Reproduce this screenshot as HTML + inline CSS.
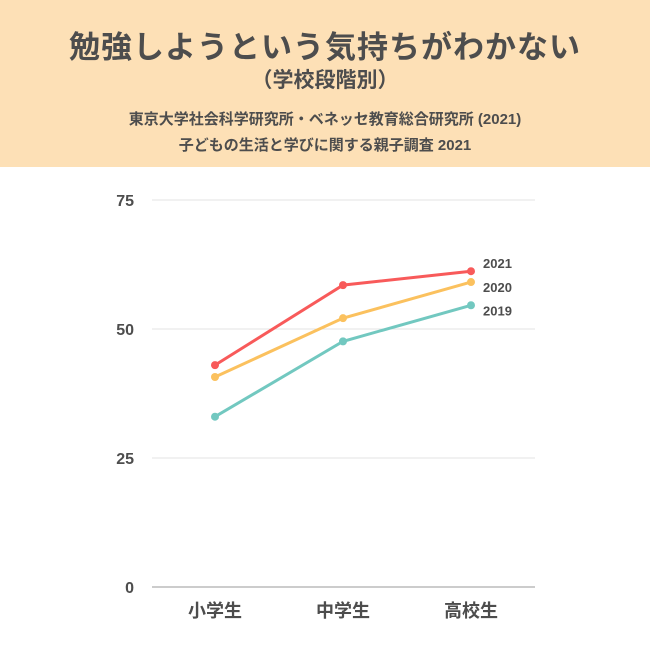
<!DOCTYPE html>
<html><head><meta charset="utf-8"><style>
body{margin:0;width:650px;height:650px;background:#fff;font-family:"Liberation Sans","Noto Sans CJK JP",sans-serif;color:#4d4d4d;position:relative;overflow:hidden}
#hdr{position:absolute;left:0;top:0;width:650px;height:167px;background:#fde0b6}
.t{position:absolute;left:0;width:650px;text-align:center;font-weight:bold;white-space:nowrap}
</style></head><body>
<div id="hdr"></div>
<div class="t" style="top:22px;font-size:31px;letter-spacing:1px">勉強しようという気持ちがわかない</div>
<div class="t" style="top:64px;font-size:21px">（学校段階別）</div>
<div class="t" style="top:108px;font-size:15px">東京大学社会科学研究所・ベネッセ教育総合研究所 (2021)</div>
<div class="t" style="top:134px;font-size:15px">子どもの生活と学びに関する親子調査 2021</div>
<svg id="chart" width="650" height="650" style="position:absolute;left:0;top:0"></svg>
<script>
const categories=["小学生","中学生","高校生"];
const yTicks=[0,25,50,75];
const seriesNames=["2019","2020","2021"];
const s2019=[33.0,47.6,54.6];
const s2020=[40.7,52.1,59.1];
const s2021=[43.0,58.5,61.2];
const colors={"2019":"#72c8c0","2020":"#fbc15e","2021":"#f85a5a"};
const labelShift={"2019":5,"2020":5,"2021":-8};
const NS="http://www.w3.org/2000/svg";
const svg=document.getElementById('chart');
const y=v=>587-v*(387/75);
const x=i=>215+i*128;
function mk(t,a){const e=document.createElementNS(NS,t);for(const k in a)e.setAttribute(k,a[k]);svg.appendChild(e);return e;}
yTicks.forEach(v=>{
  const l=mk('line',{x1:152,x2:535,y1:y(v),y2:y(v),stroke:v===0?'#999':'#e3e3e3','stroke-width':1});
  
  
  const t=mk('text',{x:134,y:y(v)+6,'text-anchor':'end','font-size':16,'font-weight':'bold',fill:'#4d4d4d'});
  t.textContent=v;
  
  
});
categories.forEach((c,i)=>{
  const t=mk('text',{x:x(i),y:617,'text-anchor':'middle','font-size':18,'font-weight':'bold',fill:'#4d4d4d','font-family':'"Liberation Sans","Noto Sans CJK JP",sans-serif'});
  t.textContent=c;
  
  
});
const all={"2019":s2019,"2020":s2020,"2021":s2021};
seriesNames.forEach(n=>{
  const d=all[n];
  const p=mk('polyline',{points:d.map((v,i)=>x(i)+','+y(v)).join(' '),fill:'none',stroke:colors[n],'stroke-width':3});
  
  
  d.forEach((v,i)=>{
    const c=mk('circle',{cx:x(i),cy:y(v),r:4,fill:colors[n]});
    
    
  });
  const t=mk('text',{x:x(2)+12,y:y(d[2])+5+labelShift[n],'font-size':13,'font-weight':'bold',fill:'#4d4d4d'});
  t.textContent=n;
  
  
});
</script>
</body></html>
